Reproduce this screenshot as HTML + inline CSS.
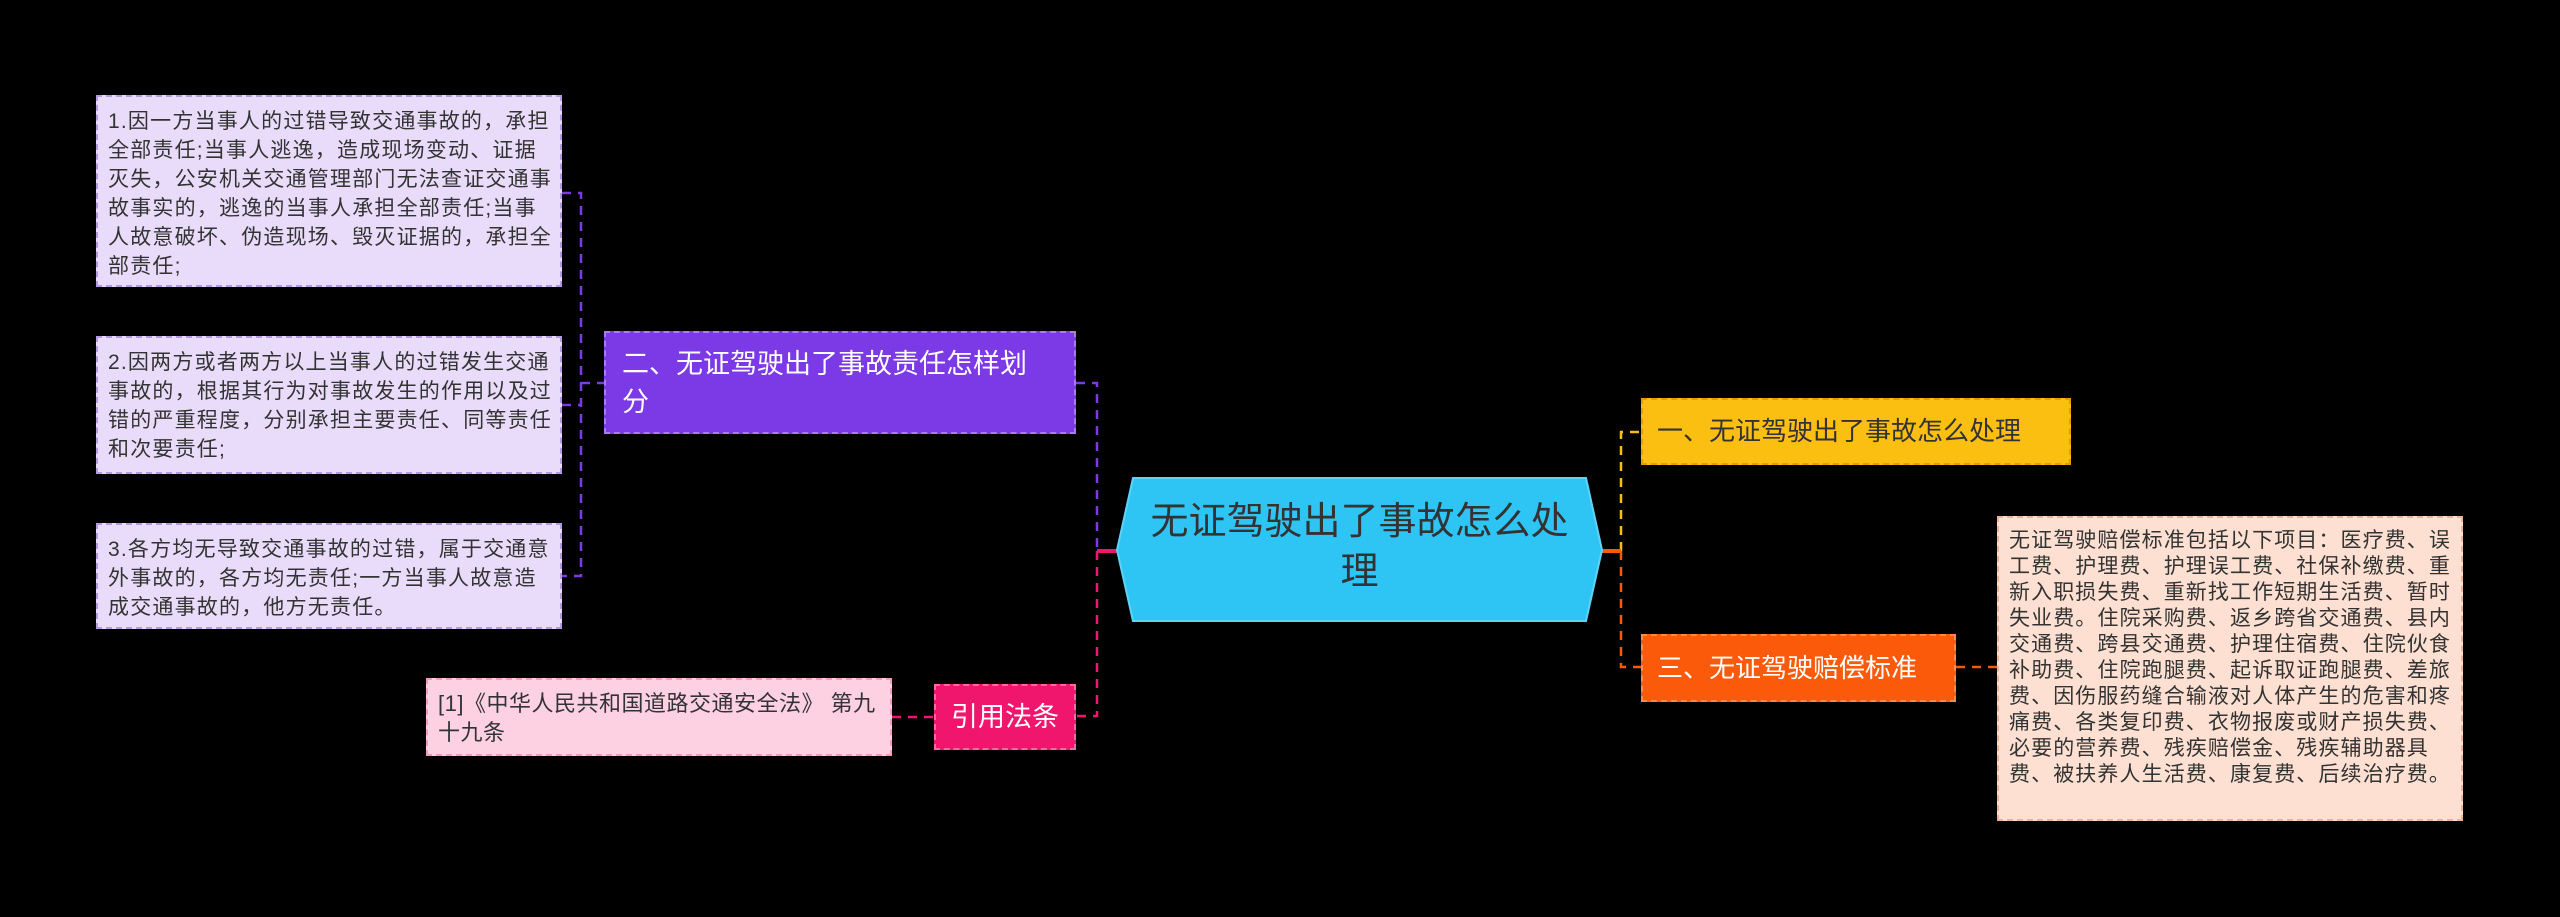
<!DOCTYPE html>
<html><head><meta charset="utf-8"><style>
body{margin:0;width:2560px;height:917px;background:#000;position:relative;overflow:hidden;font-family:"Liberation Sans","Noto Sans CJK SC",sans-serif}
.b{position:absolute;box-sizing:border-box;}
.leaf{background:#e9dcfa;border:2px dashed #b49ae0;color:#333;font-size:21px;letter-spacing:1.2px;line-height:29px;padding:10px 8px 0 10px}
</style></head><body>
<svg class="b" style="left:0;top:0" width="2560" height="917">
<g fill="none" stroke-width="2.5" stroke-dasharray="9,7">
<path d="M562 193H581V576H562M562 405H581M581 383H604" stroke="#7c3ae6"/>
<path d="M1076 383H1097V551" stroke="#7c3ae6"/>
<path d="M1097 551V716H1076" stroke="#f0166e"/>
<path d="M892 717H934" stroke="#f0166e"/>
<path d="M1621 551V432H1641" stroke="#fbbf12"/>
<path d="M1621 551V667H1641" stroke="#fb5a0a"/>
<path d="M1956 667H1997" stroke="#fb5a0a"/>
</g>
<path d="M1097 551H1117" stroke="#f0166e" stroke-width="4"/>
<path d="M1602 551H1621" stroke="#fb5a0a" stroke-width="4"/>
<polygon points="1133,478 1586,478 1602,550 1586,621 1133,621 1117,550" fill="#2ec4f4" stroke="#5fd3f7" stroke-width="2"/>
</svg>
<div class="b" style="left:1133px;top:497px;width:453px;text-align:center;font-size:38px;line-height:50px;color:#333">无证驾驶出了事故怎么处理</div>

<div class="b leaf" style="left:96px;top:95px;width:466px;height:192px">1.因一方当事人的过错导致交通事故的，承担全部责任;当事人逃逸，造成现场变动、证据灭失，公安机关交通管理部门无法查证交通事故事实的，逃逸的当事人承担全部责任;当事人故意破坏、伪造现场、毁灭证据的，承担全部责任;</div>
<div class="b leaf" style="left:96px;top:336px;width:466px;height:138px">2.因两方或者两方以上当事人的过错发生交通事故的，根据其行为对事故发生的作用以及过错的严重程度，分别承担主要责任、同等责任和次要责任;</div>
<div class="b leaf" style="left:96px;top:523px;width:466px;height:106px">3.各方均无导致交通事故的过错，属于交通意外事故的，各方均无责任;一方当事人故意造成交通事故的，他方无责任。</div>

<div class="b" style="left:604px;top:331px;width:472px;height:103px;background:#7c3ae6;border:2px dashed #a77cf0;color:#fff;font-size:27px;line-height:38px;padding:12px 26px 0 16px">二、无证驾驶出了事故责任怎样划分</div>

<div class="b" style="left:934px;top:684px;width:142px;height:66px;background:#f0166e;border:2px dashed #ff6aa3;color:#fff;font-size:27px;line-height:62px;text-align:center">引用法条</div>
<div class="b" style="left:426px;top:678px;width:466px;height:78px;background:#fdd0e2;border:2px dashed #f29bbd;color:#333;font-size:22px;letter-spacing:0.5px;line-height:29px;padding:9px 6px 0 10px">[1]《中华人民共和国道路交通安全法》 第九十九条</div>

<div class="b" style="left:1641px;top:398px;width:430px;height:67px;background:#fbbf12;border:2px dashed #e0a000;color:#333;font-size:26px;line-height:63px;padding-left:14px">一、无证驾驶出了事故怎么处理</div>
<div class="b" style="left:1641px;top:634px;width:315px;height:68px;background:#fb5a0a;border:2px dashed #ff8a4a;color:#fff;font-size:26px;line-height:64px;padding-left:14px">三、无证驾驶赔偿标准</div>
<div class="b" style="left:1997px;top:516px;width:466px;height:305px;background:#fde0d2;border:2px dashed #e8b59a;color:#333;font-size:21px;letter-spacing:1.1px;line-height:26px;padding:10px 4px 0 10px">无证驾驶赔偿标准包括以下项目：医疗费、误工费、护理费、护理误工费、社保补缴费、重新入职损失费、重新找工作短期生活费、暂时失业费。住院采购费、返乡跨省交通费、县内交通费、跨县交通费、护理住宿费、住院伙食补助费、住院跑腿费、起诉取证跑腿费、差旅费、因伤服药缝合输液对人体产生的危害和疼痛费、各类复印费、衣物报废或财产损失费、必要的营养费、残疾赔偿金、残疾辅助器具费、被扶养人生活费、康复费、后续治疗费。</div>
</body></html>
